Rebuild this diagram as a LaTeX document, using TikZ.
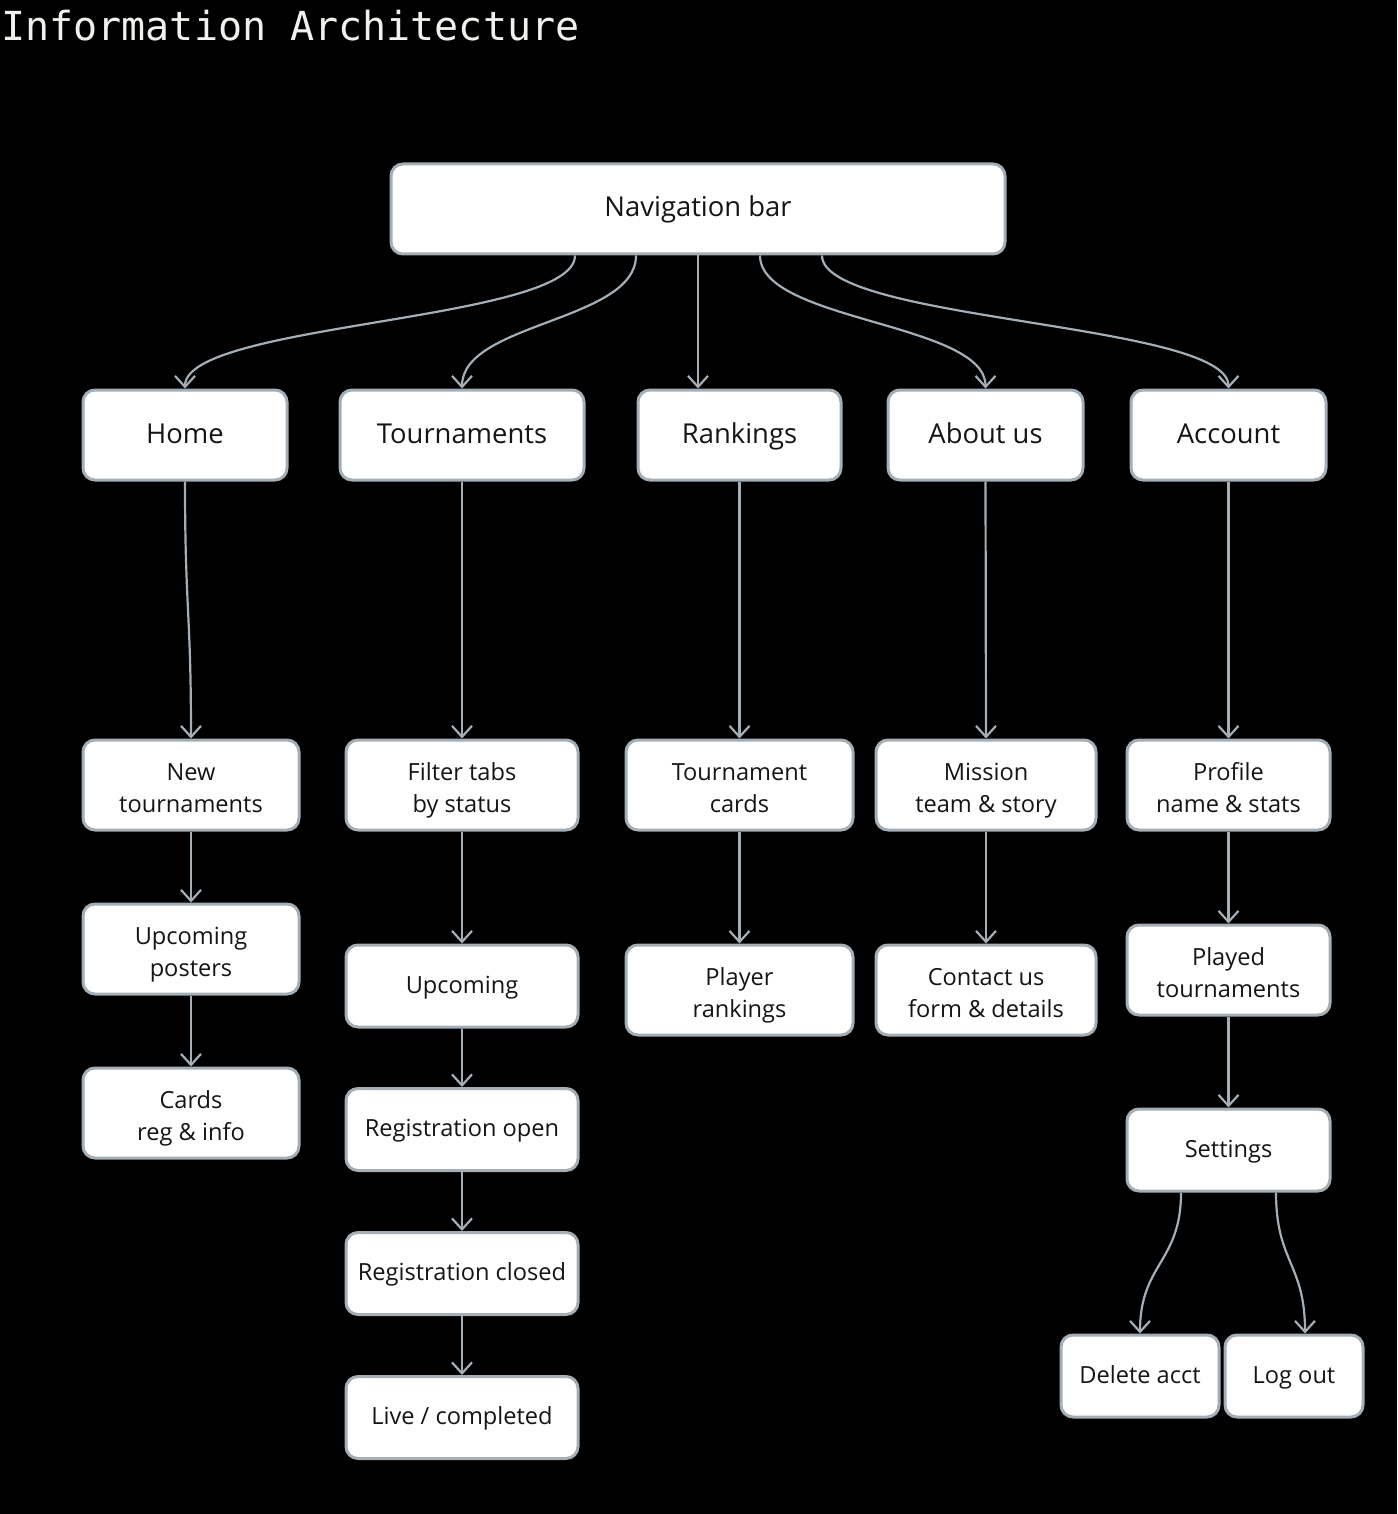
\documentclass[tikz,border=0pt]{standalone}
\usepackage{fontspec}
\setmainfont{Open Sans}
\newfontfamily\titlefont{DejaVu Sans Mono}
\usetikzlibrary{arrows.meta,calc}
\definecolor{edgegray}{HTML}{A4AEB6}
\definecolor{titlewhite}{HTML}{F2F0EC}
\definecolor{boxtext}{HTML}{151515}
\newcommand{\hstrut}{\rule{0pt}{14pt}}
\newcommand{\dstrut}{\rule[-3pt]{0pt}{3pt}}

\begin{document}
\begin{tikzpicture}[x=0.5pt,y=-0.5pt,
  box/.style={draw=edgegray,line width=1.5pt,fill=white,rounded corners=6pt,
    minimum height=45pt,inner sep=0pt,align=center,text=boxtext},
  toprow/.style={font=\fontsize{13.7}{16.5}\selectfont,
    execute at begin node={\rule[-4.25pt]{0pt}{16.5pt}}},
  oneline/.style={font=\fontsize{11.8}{16}\selectfont,
    execute at begin node={\rule[-4.5pt]{0pt}{16pt}}},
  twoline/.style={font=\fontsize{11.8}{16}\selectfont},
  slim/.style={minimum height=41pt},
  link/.style={edgegray,line width=1.1pt,-{Straight Barb[length=5.5pt,width=10pt]}}]
\fill[black] (0,0) rectangle (1397,1514);
\useasboundingbox (0,0) rectangle (1397,1514);

\node[anchor=base west,inner sep=0pt,text=titlewhite,
  font=\titlefont\fontsize{20}{24}\selectfont] (title) at (1,41) {Information Architecture};

% top level
\node[box,toprow,minimum width=307pt] (nav) at (698,209) {Navigation bar};
\node[box,toprow,minimum width=102pt] (home) at (185,435) {Home};
\node[box,toprow,minimum width=122pt] (tourn) at (462,435) {Tournaments};
\node[box,toprow,minimum width=101.5pt] (rank) at (739.5,435) {Rankings};
\node[box,toprow,minimum width=97.5pt] (about) at (985.5,435) {About us};
\node[box,toprow,minimum width=97.5pt] (acct) at (1228.5,435) {Account};

% second row
\node[box,twoline,minimum width=108pt] (newtourn) at (191,785) {\hstrut New\\tournaments\dstrut};
\node[box,twoline,minimum width=116pt] (filter) at (462,785) {\hstrut Filter tabs\\by status\dstrut};
\node[box,twoline,minimum width=113.5pt] (tcards) at (739.5,785) {\hstrut Tournament\\cards\dstrut};
\node[box,twoline,minimum width=110pt] (mission) at (986,785) {\hstrut Mission\\team \& story\dstrut};
\node[box,twoline,minimum width=101.5pt] (profile) at (1228.5,785) {\hstrut Profile\\name \& stats\dstrut};

% home column
\node[box,twoline,minimum width=108pt] (posters) at (191,949) {\hstrut Upcoming\\posters\dstrut};
\node[box,twoline,minimum width=108pt] (reginfo) at (191,1113) {\hstrut Cards\\reg \& info\dstrut};

% tournaments column
\node[box,oneline,slim,minimum width=116pt] (upcoming) at (462,986) {Upcoming};
\node[box,oneline,slim,minimum width=116pt] (regopen) at (462,1129.5) {Registration open};
\node[box,oneline,slim,minimum width=116pt] (regclosed) at (462,1273.5) {Registration closed};
\node[box,oneline,slim,minimum width=116pt] (live) at (462,1417.5) {Live / completed};

% rankings, about us
\node[box,twoline,minimum width=113.5pt] (players) at (739.5,990) {\hstrut Player\\rankings\dstrut};
\node[box,twoline,minimum width=110pt] (contact) at (986,990) {\hstrut Contact us\\form \& details\dstrut};

% account column
\node[box,twoline,minimum width=101.5pt] (played) at (1228.5,970) {\hstrut Played\\tournaments\dstrut};
\node[box,oneline,slim,minimum width=101.5pt] (settings) at (1228.5,1150) {Settings};
\node[box,oneline,slim,minimum width=79pt] (delacct) at (1140,1376) {Delete acct};
\node[box,oneline,slim,minimum width=69pt] (logout) at (1294,1376) {Log out};

% from the navigation bar
\draw[link] ($(nav.south)+(-123,0)$) .. controls +(0,66) and +(0,-66) .. (home.north);
\draw[link] ($(nav.south)+(-62,0)$) .. controls +(0,66) and +(0,-66) .. (tourn.north);
\draw[link] (nav.south) -- (nav.south |- rank.north);
\draw[link] ($(nav.south)+(62,0)$) .. controls +(0,66) and +(0,-66) .. (about.north);
\draw[link] ($(nav.south)+(124,0)$) .. controls +(0,66) and +(0,-66) .. (acct.north);

% down the columns
\draw[link] (home.south) .. controls +(0,128) and +(0,-128) .. (newtourn.north);
\draw[link] (newtourn) -- (posters);
\draw[link] (posters) -- (reginfo);
\draw[link] (tourn) -- (filter);
\draw[link] (filter) -- (upcoming);
\draw[link] (upcoming) -- (regopen);
\draw[link] (regopen) -- (regclosed);
\draw[link] (regclosed) -- (live);
\draw[link] (rank) -- (tcards);
\draw[link] (tcards) -- (players);
\draw[link] (about.south) -- (mission.north);
\draw[link] (mission) -- (contact);
\draw[link] (acct) -- (profile);
\draw[link] (profile) -- (played);
\draw[link] (played) -- (settings);
\draw[link] ($(settings.south)+(-47.5,0)$) .. controls +(0,70) and +(0,-70) .. (delacct.north);
\draw[link] ($(settings.south)+(47.5,0)$) .. controls +(0,70) and +(0,-70) .. ($(logout.north)+(11,0)$);
\end{tikzpicture}
\end{document}
